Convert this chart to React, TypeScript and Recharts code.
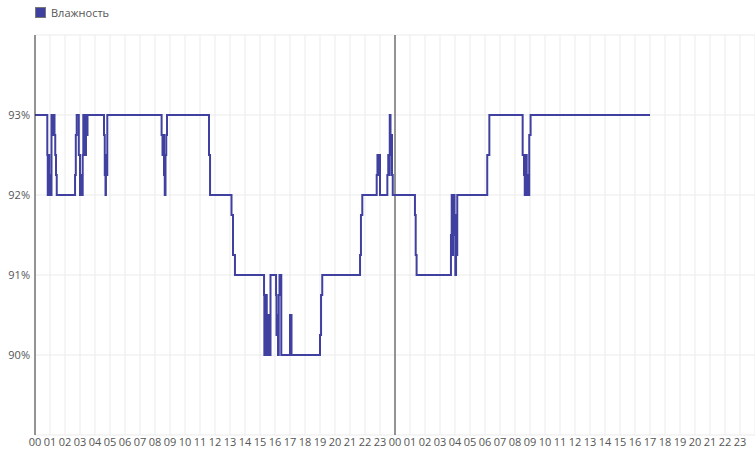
import {
  LineChart,
  Line,
  XAxis,
  YAxis,
  CartesianGrid,
  ReferenceLine,
} from "recharts";

// hours since the start of the first day, and humidity (%) from that moment on
const hours = [
  0, 0.82, 0.85, 0.9, 0.95, 1.0, 1.05, 1.1, 1.22, 1.25, 1.3, 1.35, 1.4, 1.45,
  2.67, 2.72, 2.78, 2.92, 3.0, 3.05, 3.1, 3.18, 3.22, 3.3, 3.35, 3.4, 3.45, 3.5,
  4.6, 4.65, 4.7, 4.73, 4.78, 4.82,
  8.44, 8.5, 8.55, 8.6, 8.65, 8.7, 8.75, 8.8,
  11.6, 11.67, 13.1, 13.2, 13.33,
  15.27, 15.29, 15.32, 15.35, 15.38, 15.42, 15.45, 15.55, 15.6, 15.7,
  16.07, 16.1, 16.15, 16.2, 16.25, 16.3, 16.42, 17.0, 17.1,
  19.0, 19.07, 19.15, 21.67, 21.73, 21.82,
  22.78, 22.83, 22.9, 22.95, 23.0,
  23.49, 23.55, 23.6, 23.65, 23.7, 23.75, 23.8, 23.85,
  25.33, 25.38, 25.44,
  27.73, 27.78, 27.82, 27.87, 27.92, 27.97, 28.02, 28.07, 28.12, 28.15,
  30.15, 30.29,
  32.51, 32.6, 32.65, 32.72, 32.78, 32.85, 32.95, 33.04,
  41,
];

const humidity = [
  93, 92.5, 92, 92.5, 92, 92.25, 92, 93, 92.75, 93, 92.75, 92.5, 92.25, 92,
  92.25, 92.75, 93, 92.5, 92, 92.25, 92, 92.5, 93, 92.75, 92.5, 93, 92.75, 93,
  92.75, 92.25, 92, 92.5, 92.25, 93,
  92.75, 92.5, 92.75, 92.25, 92, 92.5, 92.75, 93,
  92.5, 92, 91.75, 91.25, 91,
  90.75, 90, 90.5, 90.25, 90, 90.75, 90, 90.5, 90, 91,
  90.75, 90.25, 90.5, 90, 90.75, 91, 90, 90.5, 90,
  90.25, 90.75, 91, 91.25, 91.75, 92,
  92.25, 92.5, 92.25, 92.5, 92,
  92.25, 92.5, 92.25, 93, 92.5, 92.75, 92.25, 92,
  91.75, 91.25, 91,
  91.5, 92, 91.25, 91.75, 92, 91.5, 91, 91.75, 91.25, 92,
  92.5, 93,
  92.5, 92.25, 92, 92.5, 92.25, 92, 92.75, 93,
  93,
];

const hourTicks = Array.from({ length: 48 }, (_, i) => i);
const percentTicks = [90, 91, 92, 93];

const data = hours.map((t, i) => ({ t, value: humidity[i] }));

export default function App() {
  return (
    <div style={{ position: "absolute", left: 0, top: 0, fontFamily: "Open Sans" }}>
      {/* legend */}
      <div
        style={{
          position: "absolute",
          left: 35,
          top: 5,
          display: "flex",
          alignItems: "center",
          fontSize: 11,
          color: "#555",
          zIndex: 1,
        }}
      >
        <span
          style={{
            width: 9,
            height: 9,
            background: "#4040a0",
            border: "1px solid #777",
            marginRight: 5,
          }}
        />
        Влажность
      </div>
      <LineChart
        width={755}
        height={451}
        data={data}
        margin={{ top: 35, right: 0, left: 0, bottom: 0 }}
      >
        <CartesianGrid stroke="#ebebeb" strokeWidth={1} />
        <XAxis
          dataKey="t"
          type="number"
          domain={[0, 48]}
          ticks={hourTicks}
          interval={0}
          height={16}
          axisLine={false}
          tickLine={false}
          tickSize={0}
          tickMargin={3}
          tick={{ fontSize: 11, fill: "#555" }}
          tickFormatter={(h: number) => String(h % 24).padStart(2, "0")}
        />
        <YAxis
          type="number"
          domain={[89, 94]}
          ticks={percentTicks}
          width={35}
          axisLine={{ stroke: "#333" }}
          tickLine={false}
          tickSize={0}
          tickMargin={5}
          tick={{ fontSize: 11, fill: "#555" }}
          tickFormatter={(v: number) => `${v}%`}
        />
        <ReferenceLine x={24} stroke="#333" />
        <Line
          type="stepAfter"
          dataKey="value"
          stroke="#4040a0"
          strokeWidth={2}
          dot={false}
          isAnimationActive={false}
        />
      </LineChart>
    </div>
  );
}
